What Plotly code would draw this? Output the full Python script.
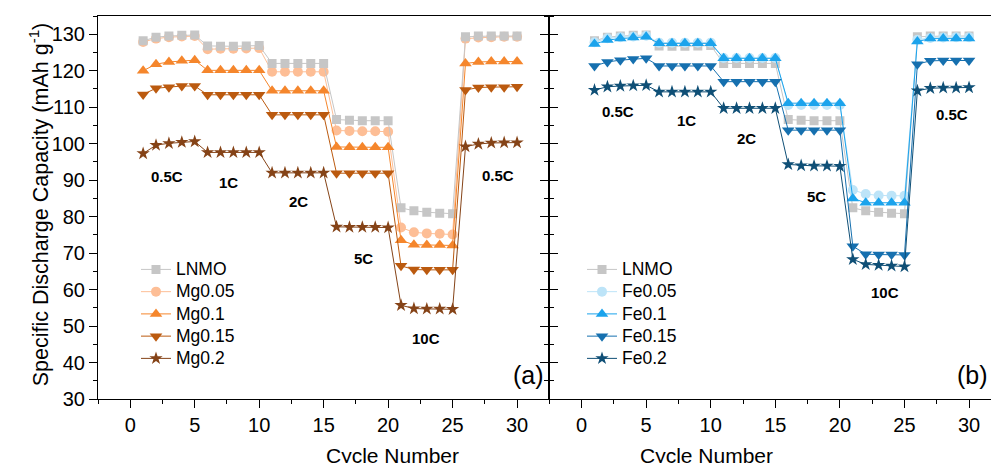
import plotly.graph_objects as go

cycles = list(range(1, 31))

lnmo = [128.2, 129.2, 129.5, 129.7, 129.8, 126.8, 126.7, 126.7, 126.8, 126.9,
        122.0, 122.0, 122.0, 122.0, 122.0, 106.6, 106.4, 106.3, 106.3, 106.3,
        82.4, 81.6, 81.2, 80.9, 80.8, 129.3, 129.5, 129.5, 129.5, 129.5]

mg005 = [127.9, 128.8, 129.2, 129.4, 129.5, 125.9, 126.0, 126.0, 126.1, 126.2,
         119.7, 119.7, 119.7, 119.7, 119.7, 103.6, 103.5, 103.4, 103.4, 103.3,
         77.0, 75.7, 75.4, 75.3, 75.1, 128.8, 129.1, 129.2, 129.3, 129.3]
mg01 = [120.0, 121.8, 122.4, 122.7, 122.9, 120.1, 120.1, 120.1, 120.1, 120.1,
        114.5, 114.5, 114.5, 114.5, 114.5, 99.1, 99.0, 99.0, 99.0, 99.0,
        73.5, 72.3, 72.2, 72.2, 72.1, 122.0, 122.4, 122.5, 122.5, 122.5]
mg015 = [113.5, 115.2, 115.5, 115.8, 115.8, 113.4, 113.4, 113.4, 113.4, 113.4,
         107.9, 107.9, 107.9, 107.9, 107.9, 91.9, 91.9, 91.9, 91.9, 91.9,
         66.5, 65.5, 65.4, 65.4, 65.4, 114.7, 115.4, 115.5, 115.5, 115.6]
mg02 = [97.3, 99.6, 100.1, 100.4, 100.6, 97.6, 97.6, 97.6, 97.6, 97.6,
        92.0, 92.0, 92.0, 92.0, 92.0, 77.2, 77.1, 77.1, 77.1, 77.0,
        55.7, 54.8, 54.7, 54.7, 54.6, 99.2, 99.9, 100.2, 100.3, 100.3]

fe005 = [127.8, 128.9, 129.2, 129.4, 129.6, 127.7, 127.7, 127.7, 127.7, 127.7,
         123.5, 123.5, 123.5, 123.5, 123.5, 110.6, 110.6, 110.6, 110.6, 110.6,
         87.3, 86.2, 85.8, 85.7, 85.7, 128.5, 129.0, 129.1, 129.2, 129.2]
fe01 = [127.3, 128.4, 128.8, 129.1, 129.3, 127.5, 127.5, 127.5, 127.5, 127.5,
        123.4, 123.4, 123.4, 123.4, 123.4, 111.1, 111.1, 111.1, 111.1, 111.1,
        85.0, 83.8, 83.8, 83.8, 83.8, 128.0, 128.8, 128.8, 128.8, 128.8]
fe015 = [121.3, 122.4, 122.9, 123.2, 123.4, 121.3, 121.3, 121.3, 121.3, 121.3,
         117.0, 117.0, 117.0, 117.0, 117.0, 103.7, 103.7, 103.7, 103.7, 103.7,
         71.9, 69.7, 69.6, 69.6, 69.5, 121.8, 122.7, 122.8, 122.8, 122.8]
fe02 = [114.7, 115.6, 115.8, 115.9, 116.0, 114.2, 114.2, 114.2, 114.2, 114.2,
        109.7, 109.7, 109.7, 109.7, 109.7, 94.3, 94.0, 93.9, 93.9, 93.8,
        68.3, 66.9, 66.7, 66.5, 66.3, 114.5, 115.2, 115.3, 115.3, 115.4]

rate_labels = ["0.5C", "1C", "2C", "5C", "10C", "0.5C"]
rate_x_a = [2.84, 7.62, 13.04, 18.07, 22.97, 28.53]
rate_y_a = [90.9, 89.3, 84.1, 68.5, 46.5, 91.4]
rate_x_b = [2.83, 8.1, 12.78, 18.19, 23.5, 28.66]
rate_y_b = [108.8, 106.3, 101.5, 85.4, 59.2, 108.0]

FONT = "Liberation Sans, Arial, sans-serif"
LEG_TXT = '<span style="font-size:17.5px">%s</span>'

fig = go.Figure()

def add(y, name, color, symbol, size, xa, ya, legend, rank):
    fig.add_trace(go.Scatter(
        x=cycles, y=y, name=LEG_TXT % name, mode="lines+markers",
        line=dict(color=color, width=1),
        marker=dict(symbol=symbol, size=size, color=color, line=dict(width=0)),
        xaxis=xa, yaxis=ya, legend=legend, legendrank=rank,
    ))

# panel (a)
add(mg005, "Mg0.05", "#FDBE96", "circle", 10, "x", "y", "legend", 2)
add(lnmo, "LNMO", "#C6C6C6", "square", 9, "x", "y", "legend", 1)
add(mg01, "Mg0.1", "#F5862C", "triangle-up", 11, "x", "y", "legend", 3)
add(mg015, "Mg0.15", "#BB5A0F", "triangle-down", 11, "x", "y", "legend", 4)
add(mg02, "Mg0.2", "#854317", "star", 10, "x", "y", "legend", 5)

# panel (b)
add(lnmo, "LNMO", "#C6C6C6", "square", 9, "x2", "y2", "legend2", 1)
add(fe005, "Fe0.05", "#BDE4F8", "circle", 10, "x2", "y2", "legend2", 2)
add(fe01, "Fe0.1", "#1BA3EC", "triangle-up", 11, "x2", "y2", "legend2", 3)
add(fe015, "Fe0.15", "#1670AF", "triangle-down", 11, "x2", "y2", "legend2", 4)
add(fe02, "Fe0.2", "#0F4F76", "star", 10, "x2", "y2", "legend2", 5)

annotations = []
for lab, xv, yv in zip(rate_labels, rate_x_a, rate_y_a):
    annotations.append(dict(x=xv, y=yv, xref="x", yref="y", text="<b>%s</b>" % lab,
                            showarrow=False, font=dict(size=15, color="black", family=FONT)))
for lab, xv, yv in zip(rate_labels, rate_x_b, rate_y_b):
    annotations.append(dict(x=xv, y=yv, xref="x2", yref="y2", text="<b>%s</b>" % lab,
                            showarrow=False, font=dict(size=15, color="black", family=FONT)))

annotations += [
    dict(x=30.9, y=36.5, xref="x", yref="y", text="(a)", showarrow=False,
         font=dict(size=25, color="black", family=FONT)),
    dict(x=30.3, y=36.5, xref="x2", yref="y2", text="(b)", showarrow=False,
         font=dict(size=25, color="black", family=FONT)),
    dict(x=(323.5 - 98) / 893, y=(398.7 - 455) / 383, xref="paper", yref="paper",
         text="Cycle Number", showarrow=False, yanchor="middle",
         font=dict(size=21, color="black", family=FONT)),
    dict(x=(775 - 98) / 893, y=(398.7 - 455) / 383, xref="paper", yref="paper",
         text="Cycle Number", showarrow=False, yanchor="middle",
         font=dict(size=21, color="black", family=FONT)),
    dict(x=(23 - 98) / 893, y=(398.7 - 204) / 383, xref="paper", yref="paper",
         text="Specific Discharge Capacity (mAh g<sup>-1</sup>)", textangle=-90,
         showarrow=False, font=dict(size=21.5, color="black", family=FONT)),
]

split = (549.3 - 98) / 893

xcommon = dict(showline=True, linecolor="black", linewidth=1, mirror=True,
               ticks="outside", ticklen=8, tickwidth=1, tickcolor="black",
               tick0=0, dtick=5, showgrid=False, zeroline=False,
               tickfont=dict(size=20, color="black", family=FONT),
               minor=dict(ticks="outside", ticklen=4, dtick=2.5, tick0=0,
                          tickcolor="black", showgrid=False))
ycommon = dict(range=[30, 135], showline=True, linecolor="black", linewidth=1,
               ticks="outside", ticklen=8, tickwidth=1, tickcolor="black",
               tick0=30, dtick=10, showgrid=False, zeroline=False,
               tickfont=dict(size=20, color="black", family=FONT),
               minor=dict(ticks="outside", ticklen=4, dtick=5, tick0=30,
                          tickcolor="black", showgrid=False))

fig.update_layout(
    width=991, height=463,
    margin=dict(l=98, r=0, t=16, b=64),
    paper_bgcolor="white", plot_bgcolor="white",
    font=dict(family=FONT, color="black"),
    xaxis=dict(domain=[0, split], range=[-2.5, 32.5], anchor="y", **xcommon),
    xaxis2=dict(domain=[split, 1], range=[-2.5, 31.7], anchor="y2", **xcommon),
    yaxis=dict(anchor="x", mirror="allticks", **ycommon),
    yaxis2=dict(anchor="x2", showticklabels=False, mirror=False, **ycommon),
    legend=dict(x=(136 - 98) / 893, y=(398.7 - 253) / 383, xanchor="left", yanchor="top",
                bgcolor="rgba(0,0,0,0)", font=dict(size=14.8, color="black", family=FONT),
                traceorder="normal", tracegroupgap=0),
    legend2=dict(x=(582 - 98) / 893, y=(398.7 - 253) / 383, xanchor="left", yanchor="top",
                 bgcolor="rgba(0,0,0,0)", font=dict(size=14.8, color="black", family=FONT),
                 traceorder="normal", tracegroupgap=0),
    annotations=annotations,
    showlegend=True,
)

fig.write_html("out.html", config={"displayModeBar": False},
               post_script="document.body.style.margin='0';document.body.style.overflow='hidden';")
